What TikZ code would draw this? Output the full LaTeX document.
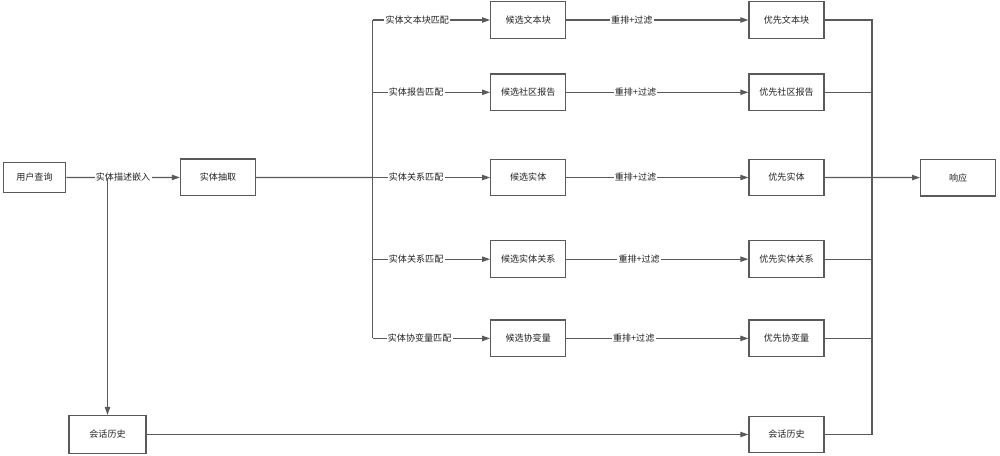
\documentclass[tikz,border=0pt]{standalone}
\usepackage{fontspec}
\setmainfont{Noto Sans CJK SC}
\usetikzlibrary{arrows.meta}
\definecolor{ln}{HTML}{5A5A5A}
\definecolor{tx}{HTML}{222222}
\begin{document}
\begin{tikzpicture}[x=0.75pt,y=-0.75pt,
  box/.style={draw=ln,line width=0.9pt,fill=white,minimum width=56.3pt,minimum height=27.5pt,inner sep=0pt,font=\fontsize{6.8}{8}\selectfont,text=tx},
  ln/.style={draw=ln,line width=0.9pt},
  arr/.style={ln,-{Triangle[length=6pt,width=4pt]}},
  lbl/.style={font=\fontsize{6.8}{8}\selectfont,text=tx,fill=white,inner sep=1pt}]
\useasboundingbox (0,0) rectangle (1000,455);
% nodes
\node[box,minimum width=46.8pt,minimum height=22.8pt] (q) at (34.5,177.5) {用户查询};
\node[box] (ex) at (218,177.4) {实体抽取};
\node[box,minimum width=57.8pt,minimum height=28.5pt] (hl) at (107.5,434.5) {会话历史};
\node[box] (hr) at (786.5,434.5) {会话历史};
\node[box] (c1) at (528.2,20) {候选文本块};
\node[box] (c2) at (528.2,92.3) {候选社区报告};
\node[box] (c3) at (528.2,177.5) {候选实体};
\node[box] (c4) at (528.2,259.2) {候选实体关系};
\node[box] (c5) at (528.2,338.4) {候选协变量};
\node[box] (p1) at (786.5,20) {优先文本块};
\node[box] (p2) at (786.5,92.3) {优先社区报告};
\node[box] (p3) at (786.5,177.5) {优先实体};
\node[box] (p4) at (786.5,259.2) {优先实体关系};
\node[box] (p5) at (786.5,338.4) {优先协变量};
\node[box] (resp) at (958.2,177.6) {响应};
% bus coordinates
\coordinate (b1) at (372.7,20);
\coordinate (b2) at (372.7,92.3);
\coordinate (b3) at (372.7,177.5);
\coordinate (b4) at (372.7,259.2);
\coordinate (b5) at (372.7,338.4);
\coordinate (r1) at (872,20);
\coordinate (rh) at (872,434.5);
% connectors
\draw[arr] (q) -- node[lbl,pos=0.5]{实体描述嵌入} (ex);
\draw[arr] (q.east -| hl.north) -- (hl.north);
\draw[ln] (ex.east) -- (b3);
\draw[ln] (b1) -- (b5);
\draw[arr] (b1) -- node[lbl,pos=0.38]{实体文本块匹配} (c1);
\draw[arr] (b2) -- node[lbl,pos=0.37]{实体报告匹配} (c2);
\draw[arr] (b3) -- node[lbl,pos=0.37]{实体关系匹配} (c3);
\draw[arr] (b4) -- node[lbl,pos=0.37]{实体关系匹配} (c4);
\draw[arr] (b5) -- node[lbl,pos=0.40]{实体协变量匹配} (c5);
\draw[arr] (c1) -- node[lbl,pos=0.36]{重排+过滤} (p1);
\draw[arr] (c2) -- node[lbl,pos=0.38]{重排+过滤} (p2);
\draw[arr] (c3) -- node[lbl,pos=0.38]{重排+过滤} (p3);
\draw[arr] (c4) -- node[lbl,pos=0.40]{重排+过滤} (p4);
\draw[arr] (c5) -- node[lbl,pos=0.37]{重排+过滤} (p5);
\draw[ln] (p1.east) -- (r1) -- (rh) -- (hr.east);
\draw[ln] (p2.east) -- (p2.east -| r1);
\draw[ln] (p4.east) -- (p4.east -| r1);
\draw[ln] (p5.east) -- (p5.east -| r1);
\draw[arr] (p3) -- (resp);
\draw[arr] (hl) -- (hr);
\end{tikzpicture}
\end{document}
